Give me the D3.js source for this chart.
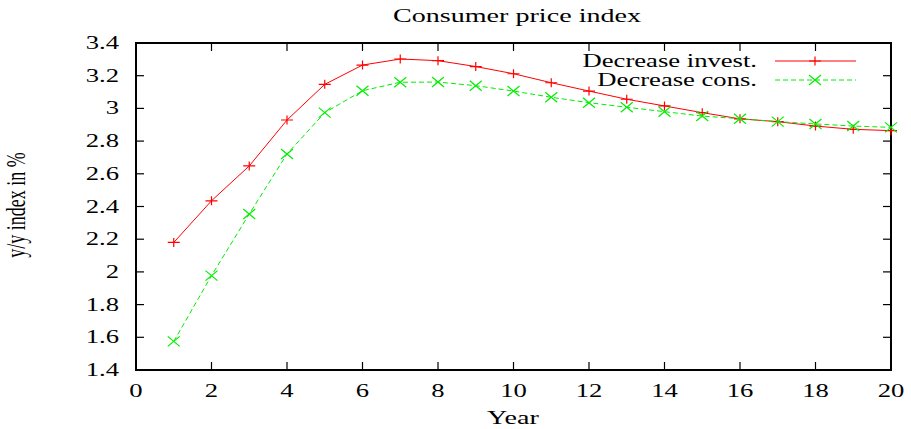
<!DOCTYPE html>
<html>
<head>
<meta charset="utf-8">
<script src="https://cdn.jsdelivr.net/npm/d3@7"></script>
<style>
  body { margin: 0; background: #fff; }
</style>
</head>
<body>
<div id="chart"></div>
<script>
const W = 911, H = 429;
const margin = { left: 136, right: 20, top: 43, bottom: 59 };
const fontFam = "'Liberation Serif', 'Times New Roman', Times, 'DejaVu Serif', serif";
const sx = 1.48; // the original text is stretched sideways

// data
const years = [1, 2, 3, 4, 5, 6, 7, 8, 9, 10, 11, 12, 13, 14, 15, 16, 17, 18, 19, 20];
const investValues = [2.18, 2.435, 2.648, 2.929, 3.147, 3.265, 3.302, 3.292, 3.256, 3.212, 3.157, 3.106, 3.056, 3.015, 2.974, 2.936, 2.919, 2.892, 2.872, 2.864];
const consValues = [1.575, 1.977, 2.354, 2.721, 2.974, 3.108, 3.16, 3.161, 3.139, 3.106, 3.068, 3.035, 3.007, 2.98, 2.953, 2.937, 2.919, 2.905, 2.892, 2.884];
const seriesNames = ["Decrease invest.", "Decrease cons."];
const xTicks = [0, 2, 4, 6, 8, 10, 12, 14, 16, 18, 20];
const yTicks = [1.4, 1.6, 1.8, 2, 2.2, 2.4, 2.6, 2.8, 3, 3.2, 3.4];

const svg = d3.select("#chart").append("svg")
    .attr("width", W).attr("height", H)
    .style("font-family", fontFam)

const x = d3.scaleLinear().domain([0, 20]).range([margin.left, W - margin.right])
const y = d3.scaleLinear().domain([1.4, 3.4]).range([H - margin.bottom, margin.top])

function label(px, py, txt, size, anchor) {
    return svg.append("text")
        .attr("transform", "translate(" + px + "," + py + ") scale(" + sx + ",1)")
        .attr("text-anchor", anchor).style("font-size", size + "px").text(txt)
}

// inner ticks on all four sides
const tickLen = 8;
xTicks.forEach(t => {
    svg.append("line").attr("x1", x(t)).attr("x2", x(t))
        .attr("y1", y(1.4)).attr("y2", y(1.4) - tickLen).attr("stroke", "#000").attr("stroke-width", 1.2)
    svg.append("line").attr("x1", x(t)).attr("x2", x(t))
        .attr("y1", y(3.4)).attr("y2", y(3.4) + tickLen).attr("stroke", "#000").attr("stroke-width", 1.2)
    label(x(t), y(1.4) + 27, t, 18, "middle")
})
yTicks.forEach(t => {
    svg.append("line").attr("x1", x(0)).attr("x2", x(0) + tickLen)
        .attr("y1", y(t)).attr("y2", y(t)).attr("stroke", "#000").attr("stroke-width", 1.2)
    svg.append("line").attr("x1", x(20)).attr("x2", x(20) - tickLen)
        .attr("y1", y(t)).attr("y2", y(t)).attr("stroke", "#000").attr("stroke-width", 1.2)
    label(x(0) - 17, y(t) + 6, d3.format("~g")(t), 18, "end")
})

// frame
svg.append("rect").attr("x", x(0)).attr("y", y(3.4))
    .attr("width", x(20) - x(0)).attr("height", y(1.4) - y(3.4))
    .attr("fill", "none").attr("stroke", "#000").attr("stroke-width", 2)

// titles
label(517, 22, "Consumer price index", 19, "middle")
label(513, 424, "Year", 19, "middle")
svg.append("text")
    .attr("transform", "translate(25,205) scale(" + sx + ",1) rotate(-90)")
    .attr("text-anchor", "middle").style("font-size", "18px").text("y/y index in %")

const lineGen = d3.line().x((d, i) => x(years[i])).y(d => y(d))

// invest series (solid red, + markers)
svg.append("path").datum(investValues).attr("d", lineGen)
    .attr("fill", "none").attr("stroke", "#ff0000").attr("stroke-width", 1)
function plus(g, cx, cy, color) {
    g.append("path").attr("d", `M${cx - 6},${cy}H${cx + 6}M${cx},${cy - 4.5}V${cy + 4.5}`)
        .attr("stroke", color).attr("stroke-width", 1.2)
}
function cross(g, cx, cy, color) {
    g.append("path").attr("d", `M${cx - 6},${cy - 5}L${cx + 6},${cy + 5}M${cx - 6},${cy + 5}L${cx + 6},${cy - 5}`)
        .attr("stroke", color).attr("stroke-width", 1.2)
}
investValues.forEach((v, i) => plus(svg, x(years[i]), y(v), "#ff0000"))

// cons series (dashed green, x markers)
svg.append("path").datum(consValues).attr("d", lineGen)
    .attr("fill", "none").attr("stroke", "#00ee00").attr("stroke-width", 1)
    .attr("stroke-dasharray", "5,3")
consValues.forEach((v, i) => cross(svg, x(years[i]), y(v), "#00ee00"))

// legend
const legX = 757, legY = [61, 80];
const legColors = ["#ff0000", "#00ee00"];
seriesNames.forEach((name, i) => {
    label(legX, legY[i] + 6, name, 18, "end")
    const l = svg.append("line").attr("x1", 775).attr("x2", 856)
        .attr("y1", legY[i]).attr("y2", legY[i])
        .attr("stroke", legColors[i]).attr("stroke-width", 1)
    if (i === 1) l.attr("stroke-dasharray", "5,3")
    if (i === 0) plus(svg, 815, legY[i], legColors[i])
    else cross(svg, 815, legY[i], legColors[i])
})
</script>
</body>
</html>
